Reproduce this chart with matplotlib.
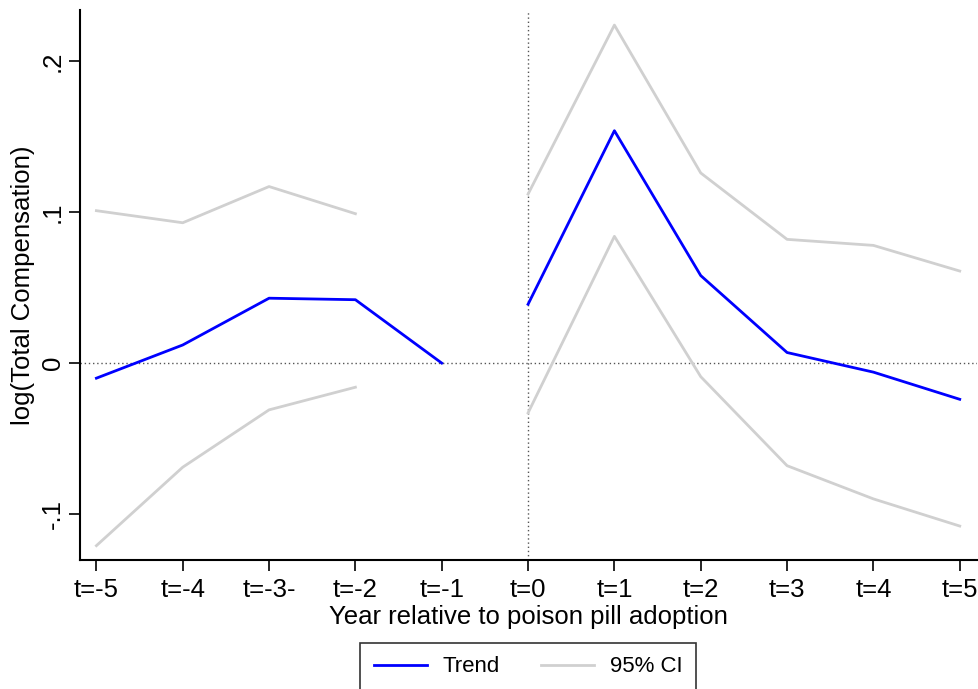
import numpy as np
import matplotlib.pyplot as plt

plt.rcParams['font.family'] = ['Liberation Sans', 'DejaVu Sans']

# event time and tick labels
years = [-5, -4, -3, -2, -1, 0, 1, 2, 3, 4, 5]
tick_labels = ['t=-5', 't=-4', 't=-3-', 't=-2', 't=-1', 't=0', 't=1', 't=2', 't=3', 't=4', 't=5']

# point estimates (gap between t=-1 and t=0)
trend_pre = [-0.010, 0.012, 0.043, 0.042, 0.000]
trend_post = [0.039, 0.154, 0.058, 0.007, -0.006, -0.024]

# 95% confidence bands (no band at t=-1)
upper_pre = [0.101, 0.093, 0.117, 0.099]
lower_pre = [-0.121, -0.069, -0.031, -0.016]
upper_post = [0.112, 0.224, 0.126, 0.082, 0.078, 0.061]
lower_post = [-0.033, 0.084, -0.009, -0.068, -0.090, -0.108]

fs = 18.5

fig = plt.figure(figsize=(9.79, 6.89), dpi=100)
ax = fig.add_axes([80 / 979, 129 / 689, 897 / 979, 550 / 689])

ax.axhline(0, color='#555555', linestyle=(0, (1, 2)), linewidth=1)
ax.axvline(0, color='#555555', linestyle=(0, (1, 2)), linewidth=1)

gray = '#d0d0d0'
ax.plot(years[:4], upper_pre, color=gray, linewidth=2)
ax.plot(years[:4], lower_pre, color=gray, linewidth=2)
ax.plot(years[5:], upper_post, color=gray, linewidth=2, label='95% CI')
ax.plot(years[5:], lower_post, color=gray, linewidth=2)
ax.plot(years[:5], trend_pre, color='#0000ff', linewidth=2, label='Trend')
ax.plot(years[5:], trend_post, color='#0000ff', linewidth=2)

ax.set_xlim(-5.19, 5.2)
ax.set_ylim(-0.1305, 0.234)
ax.set_xticks(years)
ax.set_xticklabels(tick_labels, fontsize=fs)
ax.set_yticks([-0.1, 0, 0.1, 0.2])
ax.set_yticklabels(['-.1', '0', '.1', '.2'], fontsize=fs, rotation=90, va='center')
ax.tick_params(length=8, width=1.2)
ax.tick_params(axis='x', pad=5)
ax.tick_params(axis='y', pad=3)

ax.spines['top'].set_visible(False)
ax.spines['right'].set_visible(False)
ax.spines['left'].set_linewidth(1.5)
ax.spines['bottom'].set_linewidth(1.5)

ax.set_xlabel('Year relative to poison pill adoption', fontsize=fs, labelpad=2)
ax.set_ylabel('log(Total Compensation)', fontsize=fs, labelpad=4)

handles, labels = ax.get_legend_handles_labels()
leg = fig.legend(handles[::-1], labels[::-1], loc='upper center', bbox_to_anchor=(528 / 979, 46 / 689 + 11 / 689),
                 ncol=2, fontsize=16, frameon=True, fancybox=False, edgecolor='black',
                 handlelength=2.4, handletextpad=0.7, columnspacing=1.85, borderpad=0.6)
leg.get_frame().set_linewidth(1.2)

fig.savefig('out.png', dpi=100)
